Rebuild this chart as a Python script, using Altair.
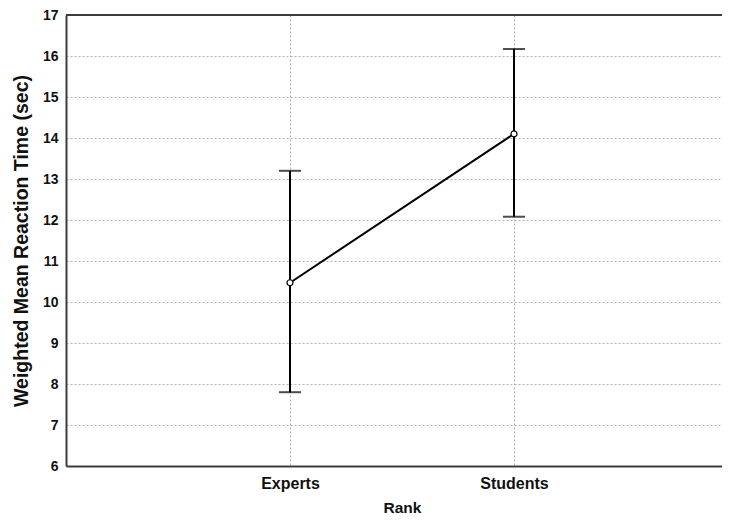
import altair as alt
import pandas as pd

ranks = ["Experts", "Students"]
means = [10.47, 14.1]
lower = [7.8, 12.08]
upper = [13.2, 16.17]
y_ticks = [6, 7, 8, 9, 10, 11, 12, 13, 14, 15, 16, 17]

df = pd.DataFrame({"Rank": ranks, "mean": means, "lo": lower, "hi": upper})

FONT = "Liberation Sans"
W, H = 656, 451

x_enc = alt.X(
    "Rank:N",
    sort=ranks,
    scale=alt.Scale(type="point", padding=0.9643, align=0.5185),
    axis=alt.Axis(
        title="Rank", labelAngle=0, grid=True, ticks=False,
        gridColor="#b4b4b4", gridDash=[2, 2], gridWidth=1,
        domainColor="#3c3c3c", domainWidth=2,
        labelFont=FONT, labelFontSize=16, labelFontWeight="bold", labelColor="#111111",
        labelPadding=9,
        titleFont=FONT, titleFontSize=15.5, titleFontWeight="bold", titleColor="#111111",
        titleX=336, titleY=46, titleAlign="center", titleBaseline="alphabetic",
    ),
)
y_enc = alt.Y(
    "mean:Q",
    scale=alt.Scale(domain=[6, 17], nice=False, zero=False),
    axis=alt.Axis(
        title="Weighted Mean Reaction Time (sec)", values=y_ticks, grid=True, ticks=False,
        gridColor="#b4b4b4", gridDash=[2, 2], gridWidth=1,
        domainColor="#3c3c3c", domainWidth=2,
        labelFont=FONT, labelFontSize=14, labelFontWeight="bold", labelColor="#111111",
        labelPadding=8,
        titleFont=FONT, titleFontSize=19.5, titleFontWeight="bold", titleColor="#111111",
        titlePadding=11,
    ),
)

base = alt.Chart(df)

line = base.mark_line(color="black", strokeWidth=2).encode(x=x_enc, y=y_enc)

top_border = base.mark_rule(color="#3c3c3c", strokeWidth=2).encode(y=alt.datum(17))

bars = base.mark_rule(color="black", strokeWidth=2).encode(
    x=alt.X("Rank:N", sort=ranks), y=alt.Y("lo:Q"), y2="hi:Q"
)
cap_lo = base.mark_tick(color="black", size=22, thickness=2).encode(
    x=alt.X("Rank:N", sort=ranks), y=alt.Y("lo:Q")
)
cap_hi = base.mark_tick(color="black", size=22, thickness=2).encode(
    x=alt.X("Rank:N", sort=ranks), y=alt.Y("hi:Q")
)
points = base.mark_point(
    filled=True, fill="white", stroke="black", strokeWidth=1.2, size=36, opacity=1
).encode(x=alt.X("Rank:N", sort=ranks), y=alt.Y("mean:Q"))

chart = (
    alt.layer(line, top_border, bars, cap_lo, cap_hi, points)
    .properties(
        width=W, height=H,
        autosize=alt.AutoSizeParams(type="none"),
        padding={"left": 58, "top": 7, "right": 0, "bottom": 50},
    )
    .configure_view(stroke=None)
    .configure(background="white")
)

chart.save("out.html", embed_options={"renderer": "svg", "actions": False})
